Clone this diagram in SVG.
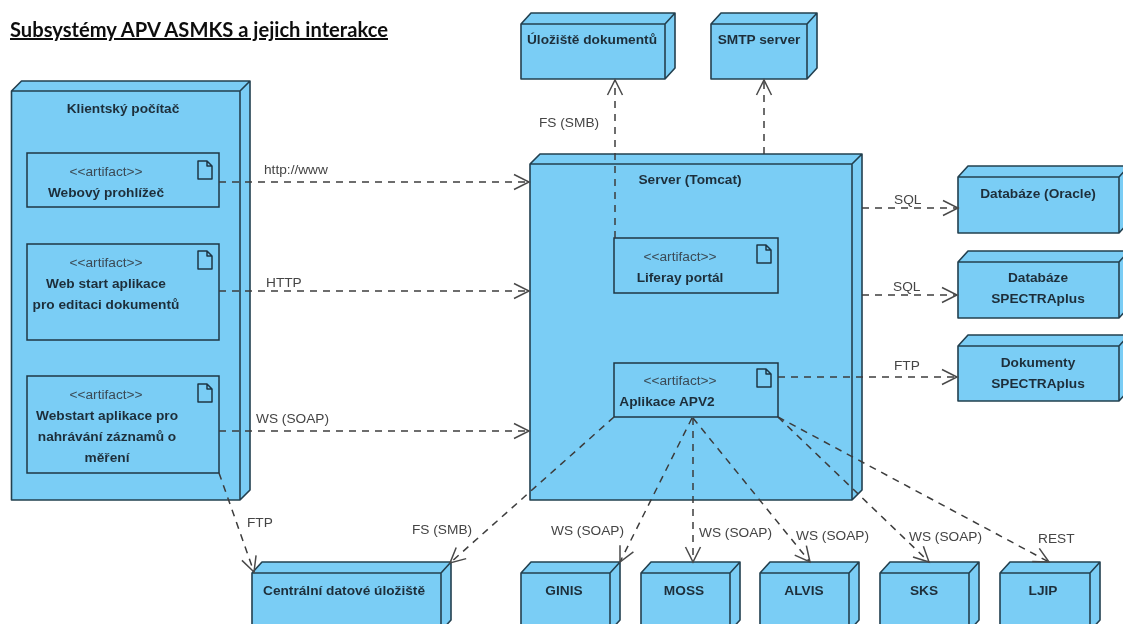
<svg xmlns="http://www.w3.org/2000/svg" width="1123" height="624" viewBox="0 0 1123 624">
<style>
text{font-family:"Liberation Sans",Arial,sans-serif;font-size:13.7px;fill:#1f2f3a}
.b{font-weight:bold;text-anchor:middle}
.s{text-anchor:middle;fill:#3a4a55}
.l{fill:#444}
.n{fill:#7acdf5;stroke:#24404f;stroke-width:1.6;stroke-linejoin:round}
.a{fill:#7acdf5;stroke:#1e3644;stroke-width:1.5}
.i{fill:none;stroke:#1e3644;stroke-width:1.5;stroke-linejoin:round}
.c{fill:none;stroke:#3c3c3c;stroke-width:1.5;stroke-dasharray:7 6;marker-end:url(#o)}
.t{font-family:Lato,"Liberation Sans",sans-serif;font-size:20px;font-weight:bold;fill:#111;text-decoration:underline}
</style>
<defs>
<filter id="soft" filterUnits="userSpaceOnUse" x="0" y="0" width="1123" height="624"><feGaussianBlur stdDeviation="0.35"/></filter>
<marker id="o" markerUnits="userSpaceOnUse" markerWidth="20" markerHeight="20" refX="17" refY="10" orient="auto"><path d="M2 2.500L17 10L2 17.500" fill="none" stroke="#4a4a4a" stroke-width="1.5"/></marker>
<path id="ic" d="M0 0H9L14 5V18H0ZM9 0V5H14" class="i"/>
</defs>
<g filter="url(#soft)">
<text class="t" x="10" y="37" textLength="378" lengthAdjust="spacingAndGlyphs">Subsystémy APV ASMKS a jejich interakce</text>
<g id="klient">
<path class="n" d="M11.500 91L21.500 81H250V490L240 500V91ZM240 91L250 81M11.500 91H240V500H11.500Z"/>
<text class="b" x="123" y="113">Klientský počítač</text>
</g>
<g id="prohlizec">
<rect class="a" x="27" y="153" width="192" height="54"/><use href="#ic" x="198" y="161"/>
<text class="s" x="106" y="176">&lt;&lt;artifact&gt;&gt;</text><text class="b" x="106" y="197">Webový prohlížeč</text>
</g>
<g id="webstart1">
<rect class="a" x="27" y="244" width="192" height="96"/><use href="#ic" x="198" y="251"/>
<text class="s" x="106" y="267">&lt;&lt;artifact&gt;&gt;</text><text class="b" x="106" y="288">Web start aplikace</text><text class="b" x="106" y="309">pro editaci dokumentů</text>
</g>
<g id="webstart2">
<rect class="a" x="27" y="376" width="192" height="97"/><use href="#ic" x="198" y="384"/>
<text class="s" x="106" y="399">&lt;&lt;artifact&gt;&gt;</text><text class="b" x="107" y="420">Webstart aplikace pro</text><text class="b" x="107" y="441">nahrávání záznamů o</text><text class="b" x="107" y="462">měření</text>
</g>
<g id="server">
<path class="n" d="M530 164L540 154H862V490L852 500V164ZM852 164L862 154M530 164H852V500H530Z"/>
<text class="b" x="690" y="184">Server (Tomcat)</text>
</g>
<g id="liferay">
<rect class="a" x="614" y="238" width="164" height="55"/><use href="#ic" x="757" y="245"/>
<text class="s" x="680" y="261">&lt;&lt;artifact&gt;&gt;</text><text class="b" x="680" y="282">Liferay portál</text>
</g>
<g id="apv2">
<rect class="a" x="614" y="363" width="164" height="54"/><use href="#ic" x="757" y="369"/>
<text class="s" x="680" y="385">&lt;&lt;artifact&gt;&gt;</text><text class="b" x="667" y="406">Aplikace APV2</text>
</g>
<g id="uloziste">
<path class="n" d="M521 24L531 13H675V68L665 79V24ZM665 24L675 13M521 24H665V79H521Z"/>
<text class="b" x="592" y="44">Úložiště dokumentů</text>
</g>
<g id="smtp">
<path class="n" d="M711 24L721 13H817V68L807 79V24ZM807 24L817 13M711 24H807V79H711Z"/>
<text class="b" x="759" y="44">SMTP server</text>
</g>
<g id="oracle">
<path class="n" d="M958 177L968 166H1129V222L1119 233V177ZM1119 177L1129 166M958 177H1119V233H958Z"/>
<text class="b" x="1038" y="198">Databáze (Oracle)</text>
</g>
<g id="spectra-db">
<path class="n" d="M958 262L968 251H1129V307L1119 318V262ZM1119 262L1129 251M958 262H1119V318H958Z"/>
<text class="b" x="1038" y="282">Databáze</text><text class="b" x="1038" y="303">SPECTRAplus</text>
</g>
<g id="spectra-doc">
<path class="n" d="M958 346L968 335H1129V390L1119 401V346ZM1119 346L1129 335M958 346H1119V401H958Z"/>
<text class="b" x="1038" y="367">Dokumenty</text><text class="b" x="1038" y="388">SPECTRAplus</text>
</g>
<g id="centralni">
<path class="n" d="M252 573L262 562H451V620L441 631V573ZM441 573L451 562M252 573H441V631H252Z"/>
<text class="b" x="344" y="595">Centrální datové úložiště</text>
</g>
<g id="ginis">
<path class="n" d="M521 573L531 562H620V620L610 631V573ZM610 573L620 562M521 573H610V631H521Z"/>
<text class="b" x="564" y="595">GINIS</text>
</g>
<g id="moss">
<path class="n" d="M641 573L651 562H740V620L730 631V573ZM730 573L740 562M641 573H730V631H641Z"/>
<text class="b" x="684" y="595">MOSS</text>
</g>
<g id="alvis">
<path class="n" d="M760 573L770 562H859V620L849 631V573ZM849 573L859 562M760 573H849V631H760Z"/>
<text class="b" x="804" y="595">ALVIS</text>
</g>
<g id="sks">
<path class="n" d="M880 573L890 562H979V620L969 631V573ZM969 573L979 562M880 573H969V631H880Z"/>
<text class="b" x="924" y="595">SKS</text>
</g>
<g id="ljip">
<path class="n" d="M1000 573L1010 562H1100V620L1090 631V573ZM1090 573L1100 562M1000 573H1090V631H1000Z"/>
<text class="b" x="1043" y="595">LJIP</text>
</g>
<g id="connectors">
<path class="c" d="M219 182H529"/>
<path class="c" d="M219 291H529"/>
<path class="c" d="M219 431H529"/>
<path class="c" d="M615 238V80"/>
<path class="c" d="M764 154V80"/>
<path class="c" d="M862 208H958"/>
<path class="c" d="M862 295H957"/>
<path class="c" d="M778 377H957"/>
<path class="c" d="M219 473L254 572"/>
<path class="c" d="M614 417L450 563"/>
<path class="c" d="M692 418L620 562"/>
<path class="c" d="M693 418V562"/>
<path class="c" d="M693 418L810 562"/>
<path class="c" d="M778 417L929 562"/>
<path class="c" d="M778 417L1049 562"/>
</g>
<g id="labels">
<text class="l" x="264" y="174">http://www</text>
<text class="l" x="266" y="287">HTTP</text>
<text class="l" x="256" y="423">WS (SOAP)</text>
<text class="l" x="539" y="127">FS (SMB)</text>
<text class="l" x="894" y="204">SQL</text>
<text class="l" x="893" y="291">SQL</text>
<text class="l" x="894" y="370">FTP</text>
<text class="l" x="247" y="527">FTP</text>
<text class="l" x="412" y="534">FS (SMB)</text>
<text class="l" x="551" y="535">WS (SOAP)</text>
<text class="l" x="699" y="537">WS (SOAP)</text>
<text class="l" x="796" y="540">WS (SOAP)</text>
<text class="l" x="909" y="541">WS (SOAP)</text>
<text class="l" x="1038" y="543">REST</text>
</g>
</g>
</svg>
